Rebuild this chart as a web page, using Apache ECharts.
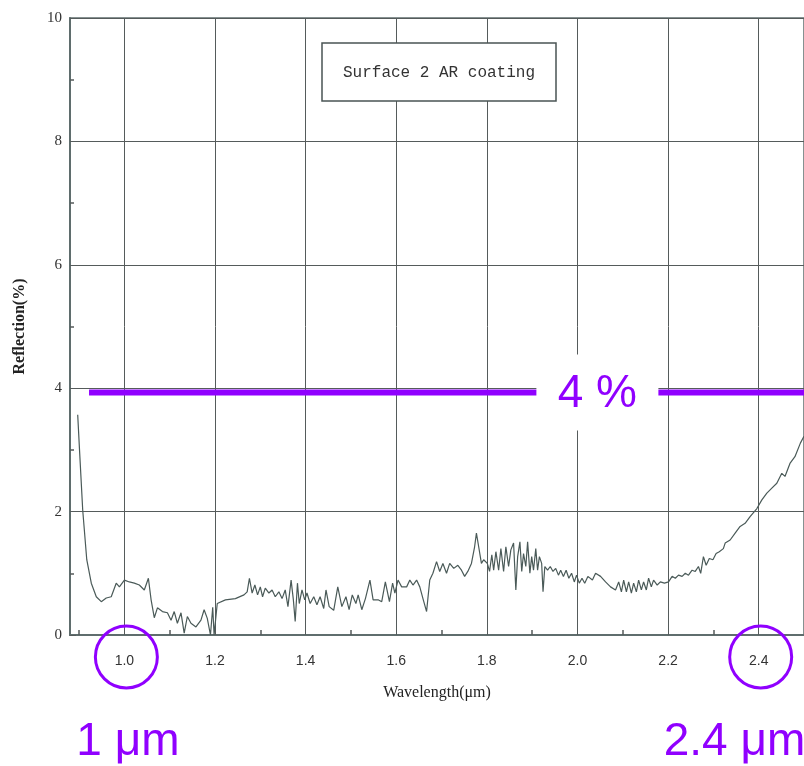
<!DOCTYPE html>
<html><head><meta charset="utf-8">
<script src="https://cdn.jsdelivr.net/npm/echarts@6/dist/echarts.min.js"></script>
<style>html,body{margin:0;padding:0;background:#fff}#c{width:804px;height:766px}</style>
</head><body><div id="c"></div>
<script>
const wavelength = [0.897,0.901,0.908,0.917,0.927,0.938,0.949,0.960,0.971,0.982,0.989,1.000,1.011,1.022,1.033,1.044,1.053,1.059,1.066,1.073,1.084,1.095,1.103,1.110,1.117,1.125,1.132,1.139,1.147,1.158,1.169,1.176,1.183,1.190,1.195,1.198,1.205,1.223,1.245,1.264,1.271,1.276,1.282,1.288,1.294,1.300,1.305,1.311,1.319,1.326,1.333,1.341,1.348,1.355,1.361,1.368,1.373,1.377,1.382,1.386,1.392,1.398,1.403,1.410,1.418,1.425,1.432,1.440,1.445,1.452,1.462,1.471,1.480,1.489,1.496,1.503,1.511,1.516,1.524,1.532,1.542,1.549,1.560,1.568,1.576,1.585,1.592,1.597,1.604,1.612,1.623,1.630,1.637,1.645,1.652,1.659,1.667,1.674,1.681,1.689,1.696,1.703,1.711,1.718,1.727,1.736,1.744,1.751,1.758,1.766,1.773,1.777,1.782,1.788,1.793,1.801,1.806,1.811,1.815,1.820,1.826,1.831,1.837,1.842,1.848,1.853,1.859,1.864,1.868,1.873,1.877,1.881,1.886,1.890,1.895,1.899,1.903,1.908,1.912,1.916,1.921,1.924,1.928,1.934,1.940,1.946,1.952,1.958,1.963,1.969,1.975,1.981,1.987,1.993,1.998,2.004,2.010,2.016,2.023,2.033,2.040,2.051,2.062,2.073,2.084,2.091,2.097,2.102,2.108,2.113,2.119,2.124,2.130,2.135,2.141,2.146,2.152,2.157,2.163,2.168,2.176,2.183,2.192,2.201,2.209,2.216,2.223,2.231,2.238,2.245,2.253,2.260,2.267,2.272,2.278,2.284,2.291,2.299,2.306,2.313,2.322,2.326,2.337,2.348,2.359,2.370,2.381,2.396,2.407,2.418,2.429,2.440,2.451,2.458,2.469,2.480,2.492,2.500];
const reflection = [3.57,3.00,2.03,1.22,0.84,0.62,0.54,0.60,0.62,0.84,0.78,0.89,0.86,0.84,0.81,0.73,0.92,0.57,0.28,0.44,0.38,0.36,0.24,0.38,0.19,0.36,0.03,0.30,0.19,0.13,0.24,0.41,0.27,0.00,0.45,0.00,0.51,0.57,0.59,0.65,0.70,0.92,0.68,0.81,0.65,0.78,0.62,0.76,0.68,0.73,0.62,0.70,0.59,0.73,0.46,0.89,0.57,0.22,0.84,0.51,0.73,0.57,0.68,0.51,0.62,0.49,0.62,0.43,0.73,0.46,0.40,0.78,0.46,0.62,0.41,0.65,0.51,0.65,0.41,0.59,0.89,0.57,0.57,0.54,0.86,0.54,0.84,0.68,0.89,0.78,0.78,0.89,0.81,0.89,0.78,0.59,0.38,0.89,1.00,1.19,1.03,1.16,1.00,1.16,1.08,1.13,1.05,0.95,1.03,1.16,1.43,1.65,1.43,1.16,1.22,1.16,1.03,1.30,1.05,1.35,1.05,1.40,1.03,1.43,1.11,1.38,1.49,0.73,1.27,1.51,1.03,1.32,1.11,1.51,1.00,1.27,1.05,1.40,1.05,1.27,1.16,0.70,1.11,1.05,1.11,1.03,1.08,0.97,1.05,0.95,1.05,0.92,1.00,0.86,0.97,0.84,0.92,0.84,0.95,0.89,1.00,0.95,0.86,0.78,0.73,0.86,0.70,0.89,0.70,0.86,0.68,0.84,0.70,0.89,0.73,0.86,0.73,0.92,0.78,0.89,0.81,0.86,0.84,0.86,0.95,0.92,0.97,0.95,1.00,0.97,1.05,1.03,1.11,1.00,1.27,1.13,1.24,1.22,1.32,1.35,1.40,1.49,1.54,1.65,1.76,1.81,1.92,2.05,2.19,2.30,2.38,2.46,2.62,2.57,2.78,2.89,3.11,3.22];
const xMajorTicks = [1.0,1.2,1.4,1.6,1.8,2.0,2.2,2.4];
const xMinorTicks = [0.9,1.1,1.3,1.5,1.7,1.9,2.1,2.3];
const xRange = [0.88, 2.5];
const yRange = [0, 10];
const yStep = 2;
const thresholdLevel = 3.93;
const thresholdStart = 0.922;
const thresholdLabel = '4 %';
const thresholdLabelX = 2.044;
const circledTicks = [1.0, 2.4];
const circleCaptions = ['1 μm', '2.4 μm'];
const chartTitle = 'Surface 2 AR coating';

const GRID = '#555b5b';
const AXIS = '#5f6d6d';
const PURPLE = '#9000ff';
const chart = echarts.init(document.getElementById('c'), null, {renderer:'canvas'});
const curve = wavelength.map((w,i)=>[w, reflection[i]]);
const option = {
  animation:false,
  backgroundColor:'#ffffff',
  grid:{left:70, right:-4, top:18, bottom:131, show:true, borderColor:AXIS, borderWidth:1.5, backgroundColor:'transparent'},
  xAxis:[{
    type:'value', position:'bottom', min:xRange[0], max:xRange[1],
    name:'Wavelength(μm)', nameLocation:'middle', nameGap:50,
    nameTextStyle:{fontFamily:'Liberation Serif', fontSize:16, color:'#222'},
    axisLine:{show:true, lineStyle:{color:AXIS, width:2}},
    axisTick:{show:true, inside:true, length:6, customValues:xMajorTicks, lineStyle:{color:GRID}},
    axisLabel:{customValues:xMajorTicks, margin:19, fontFamily:'Liberation Sans', fontSize:14, color:'#333', formatter:v=>v.toFixed(1)},
    splitLine:{show:true, lineStyle:{color:GRID, width:1}}
  },{
    type:'value', position:'bottom', min:xRange[0], max:xRange[1],
    axisLine:{show:false}, axisLabel:{show:false}, splitLine:{show:false},
    axisTick:{show:true, inside:true, length:5, customValues:xMinorTicks, lineStyle:{color:GRID, width:1.5}}
  }],
  yAxis:{
    type:'value', min:yRange[0], max:yRange[1], interval:yStep,
    name:'Reflection(%)', nameLocation:'middle', nameGap:42,
    nameTextStyle:{fontFamily:'Liberation Serif', fontWeight:'bold', fontSize:16, color:'#222'},
    axisLine:{show:true, lineStyle:{color:AXIS, width:2}},
    axisTick:{show:true, inside:true, length:6, lineStyle:{color:GRID}},
    minorTick:{show:true, splitNumber:2, length:4, lineStyle:{color:GRID, width:1.5}},
    axisLabel:{margin:8, fontFamily:'Liberation Serif', fontSize:15, color:'#333'},
    splitLine:{show:true, lineStyle:{color:GRID, width:1}}
  },
  series:[{
    type:'line', data:curve, showSymbol:false, symbol:'none',
    lineStyle:{color:'#4a5a58', width:1.2}, z:3
  },{
    type:'line', data:[[thresholdStart, thresholdLevel],[xRange[1], thresholdLevel]], showSymbol:false, symbol:'none',
    lineStyle:{color:PURPLE, width:6}, z:5, clip:false
  }]
};
chart.setOption(option);

const p = (x,y)=>chart.convertToPixel({gridIndex:0},[x,y]);
const lp = p(thresholdLabelX, thresholdLevel);
const base = p(xRange[0], 0);
const graphics = [
  {type:'rect', shape:{x:322, y:43, width:234, height:58}, style:{fill:'#fff', stroke:'#4a5454', lineWidth:1.5}, z:10},
  {type:'text', x:439, y:73, style:{text:chartTitle, font:'16px "Liberation Mono"', fill:'#333', align:'center', verticalAlign:'middle'}, z:11},
  {type:'rect', shape:{x:lp[0]-61, y:lp[1]-38, width:122, height:76}, style:{fill:'#fff'}, z:10},
  {type:'text', x:lp[0], y:lp[1]+2, style:{text:thresholdLabel, font:'46px "Liberation Sans"', fill:PURPLE, align:'center', verticalAlign:'middle'}, z:11}
];
circledTicks.forEach((t,i)=>{
  const c = p(t,0);
  graphics.push({type:'circle', shape:{cx:c[0]+2, cy:base[1]+22, r:31}, style:{fill:'none', stroke:PURPLE, lineWidth:3}, z:10});
});
graphics.push({type:'text', x:p(circledTicks[0],0)[0]-48, y:742, style:{text:circleCaptions[0], font:'46px "Liberation Sans"', fill:PURPLE, align:'left', verticalAlign:'middle'}, z:11});
graphics.push({type:'text', x:p(circledTicks[1],0)[0]-95, y:742, style:{text:circleCaptions[1], font:'46px "Liberation Sans"', fill:PURPLE, align:'left', verticalAlign:'middle'}, z:11});
chart.setOption({graphic:graphics});
</script></body></html>
